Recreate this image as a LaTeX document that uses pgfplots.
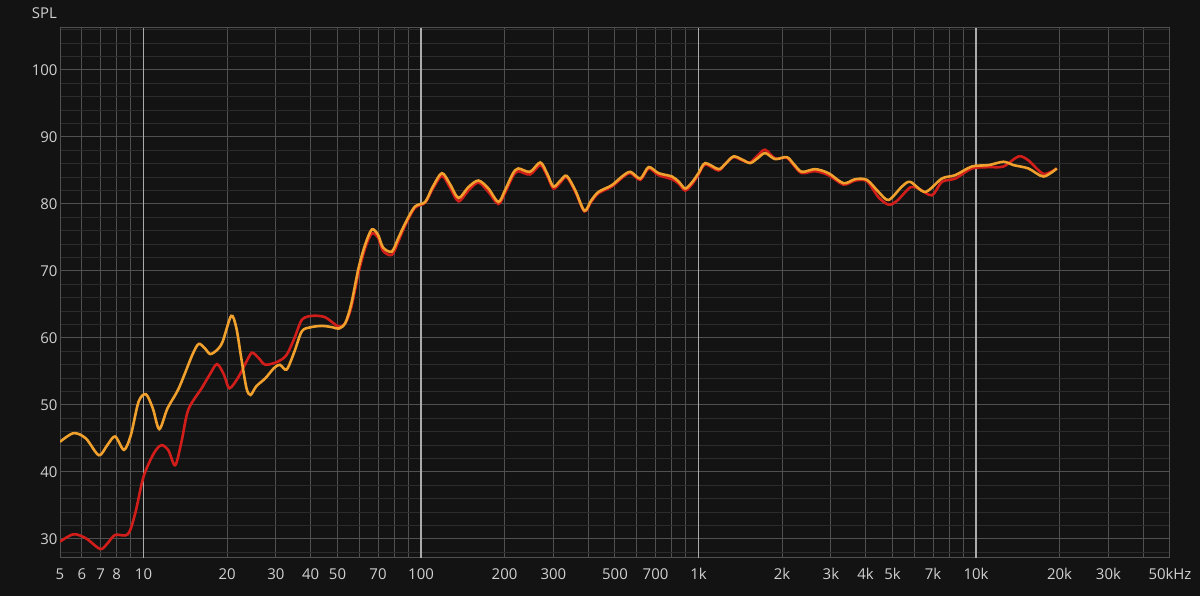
\documentclass[border=0pt]{standalone}
\usepackage{pgfplots}
\pgfplotsset{compat=1.18}
\usepackage{fontspec}
\setmainfont{Open Sans}
\definecolor{bgc}{HTML}{131313}
\definecolor{gridc}{HTML}{505050}
\definecolor{gridminor}{HTML}{2C2C2C}
\definecolor{decc}{HTML}{ABABAB}
\definecolor{txtc}{HTML}{D0D0D0}
\definecolor{redc}{HTML}{D21E1A}
\definecolor{orac}{HTML}{F0A02C}
\begin{document}
\begin{tikzpicture}[x=1bp,y=1bp]
\fill[bgc] (0,0) rectangle (1200,596);
\node[anchor=east, text=txtc, font=\fontsize{15}{18}\selectfont, inner sep=0pt] at (57,583) {SPL};
\begin{axis}[
  at={(60bp,38bp)}, anchor=south west,
  scale only axis, width=1110bp, height=530bp,
  xmode=log, log basis x=10,
  xmin=5, xmax=50000, ymin=27.16, ymax=106.27,
  axis background/.style={fill=bgc},
  axis line style={gridc, line width=1bp},
  /pgf/number format/assume math mode=true,
  xtick={5,6,7,8,9,20,30,40,50,60,70,80,90,200,300,400,500,600,700,800,900,2000,3000,4000,5000,6000,7000,8000,9000,20000,30000,40000,50000},
  xticklabels={5,6,7,8,,20,30,40,50,,70,,,200,300,,500,,700,,,2k,3k,4k,5k,,7k,,,20k,30k,,50kHz},
  extra x ticks={10,100,1000,10000},
  extra x tick labels={10,100,1k,10k},
  extra x tick style={major grid style={draw=decc, line width=1.2bp}},
  ytick={30,40,...,100},
  yticklabels={30,40,50,60,70,80,90,100},
  minor ytick={28,30,...,106},
  grid=both,
  major grid style={draw=gridc, line width=1bp},
  minor grid style={draw=gridminor, line width=1bp},
  major tick length=0pt, minor tick length=0pt,
  tick label style={text=txtc, font=\fontsize{15}{18}\selectfont},
  xticklabel style={yshift=-7bp},
  yticklabel style={xshift=1bp},
  clip=true,
]
\addplot[redc, line width=2.6bp, smooth, tension=0.5] coordinates {
(5,29.6) (5.59,30.7) (6.2,30.1) (6.98,28.5) (7.4,29.3) (7.9,30.6) (8.78,30.7) (9.33,33.8)
(10,39.3) (10.9,42.8) (11.6,44.0) (12.3,43.2) (13.0,41.0) (13.7,44.5) (14.5,49.3) (16.2,52.5)
(17.3,54.5) (18.4,56.1) (19.5,54.5) (20.4,52.5) (22.0,54.2) (23.5,56.5) (24.6,57.8) (26,57)
(27.5,56.0) (30.6,56.5) (32.8,57.5) (35,60) (37.2,62.7) (40.4,63.3) (45.1,63.1) (50.4,61.7)
(53.3,62.2) (56,64.5) (59.6,69.8) (63,73.5) (66.5,75.6) (70,75) (73,73) (78.5,72.4)
(83,74.5) (87.7,76.8) (95,79.4) (103.5,80.2) (110,82.2) (118.9,84.2) (127,82.5) (136.5,80.4)
(148,82) (161,83.2) (175,81.8) (190,80.0) (201,81.7) (214,84.1) (224,84.9) (247,84.4)
(269,85.8) (285,84.2) (300,82.3) (318,83.2) (335,84.0) (360,81.8) (388,78.9) (410,80.3)
(436,81.6) (487,82.6) (530,83.9) (568,84.6) (617,83.6) (661,85.3) (718,84.3) (802,83.7)
(850,83) (896,82.0) (950,83) (1000,84.4) (1057,85.9) (1180,85.0) (1250,86.0) (1337,87.0)
(1440,86.5) (1535,86.2) (1630,87.2) (1738,88.1) (1888,86.8) (2079,86.9) (2200,85.8) (2355,84.6)
(2631,84.9) (2939,84.3) (3330,82.9) (3670,83.5) (4043,83.4) (4455,81.0) (4841,79.9) (5200,80.5)
(5800,82.5) (6200,82.3) (6937,81.3) (7534,83.3) (8415,83.8) (9663,85.3) (11094,85.5) (12561,85.6)
(14230,87.1) (15450,86.5) (17500,84.5) (19550,85.3)
};
\addplot[orac, line width=2.6bp, smooth, tension=0.5] coordinates {
(5,44.5) (5.6,45.8) (6.2,45.0) (6.9,42.5) (7.4,44.0) (7.9,45.3) (8.5,43.3) (9.0,45.5)
(9.6,50.5) (10.2,51.6) (10.8,49.5) (11.4,46.4) (12.2,49.5) (13.4,52.5) (15.0,57.5) (15.8,59.1)
(16.6,58.5) (17.4,57.6) (18.5,58.3) (19.3,59.5) (20.7,63.3) (21.6,61.5) (22.5,57) (23.5,52.5)
(24.3,51.5) (25.5,52.8) (27.5,54.0) (29.5,55.5) (31,56) (32.8,55.3) (35,58) (37.2,61.0)
(40,61.6) (44,61.8) (48,61.6) (50.5,61.4) (53.3,62.2) (56,65) (59.6,70.5) (63,74)
(66.5,76.2) (70,75.4) (73,73.5) (78.5,72.9) (83,75) (87.7,77.1) (95,79.6) (103.5,80.3)
(110,82.5) (118.9,84.6) (127,83) (136.5,80.9) (148,82.5) (161,83.5) (175,82.3) (190,80.3)
(201,82.1) (214,84.5) (224,85.3) (247,84.8) (269,86.2) (285,84.5) (300,82.6) (318,83.5)
(335,84.2) (360,82) (388,79.0) (410,80.5) (436,81.8) (487,82.8) (530,84.1) (568,84.8)
(617,83.8) (661,85.5) (718,84.6) (802,84.1) (850,83.3) (896,82.3) (950,83.3) (1000,84.6)
(1057,86.1) (1180,85.2) (1250,86.0) (1337,87.1) (1440,86.6) (1535,86.1) (1630,86.8) (1738,87.6)
(1888,86.7) (2079,87.0) (2200,86.0) (2355,84.8) (2631,85.2) (2939,84.6) (3330,83.1) (3670,83.7)
(4043,83.6) (4455,81.8) (4841,80.6) (5409,82.6) (5797,83.3) (6563,81.8) (7534,83.8) (8415,84.3)
(9663,85.6) (11094,85.8) (12561,86.3) (13650,85.8) (15450,85.3) (17500,84.1) (19550,85.3)
};
\end{axis}
\end{tikzpicture}
\end{document}
